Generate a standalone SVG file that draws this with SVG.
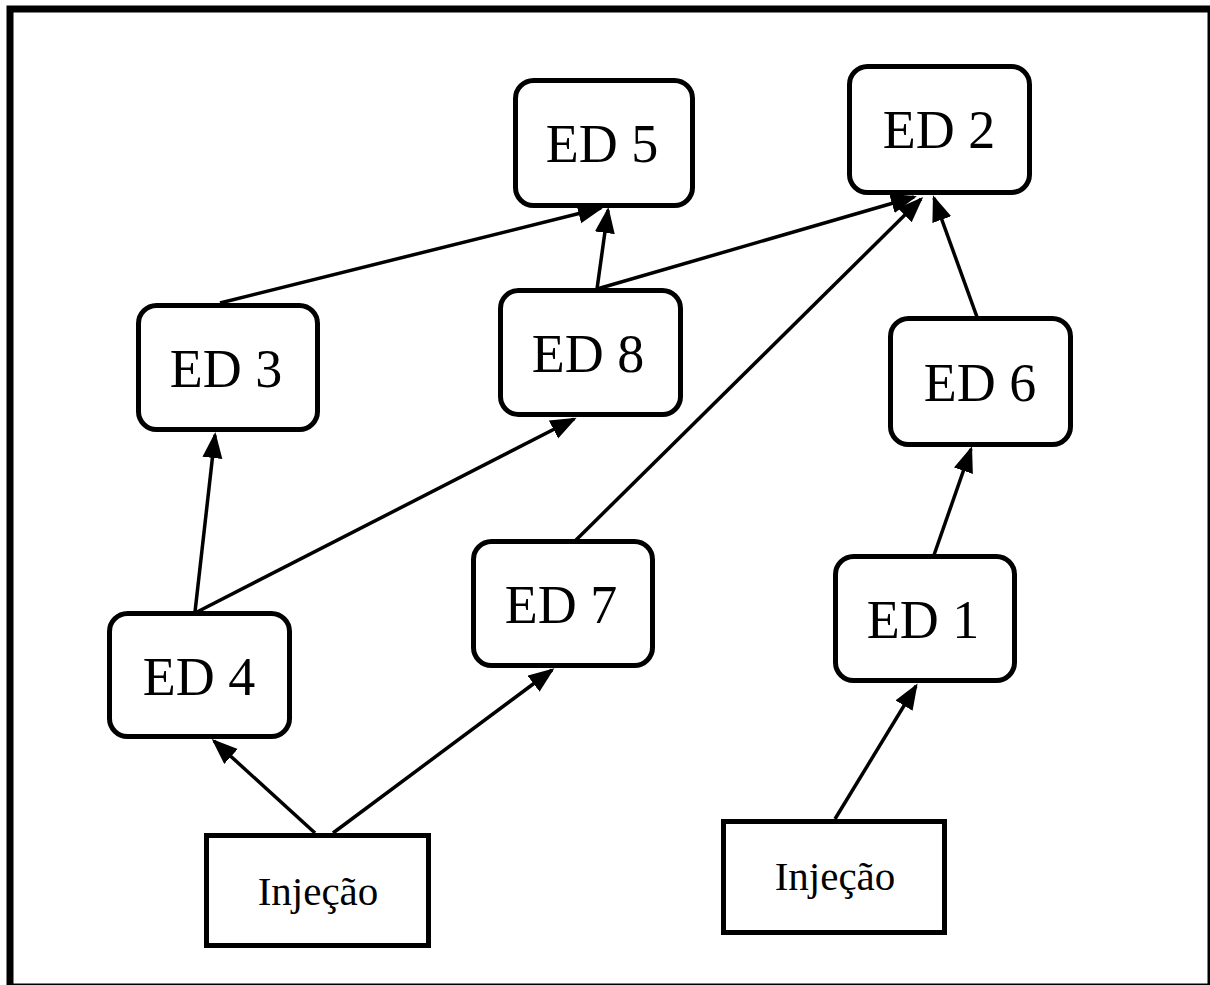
<svg xmlns="http://www.w3.org/2000/svg" width="1210" height="985" viewBox="0 0 1210 985">
  <defs>
    <marker id="arrow" markerUnits="userSpaceOnUse" markerWidth="28" markerHeight="22" refX="23" refY="10" orient="auto">
      <path d="M0,0 L26,10 L0,20 Z" fill="#000"/>
    </marker>
    <style>
      .frame { fill: #fff; stroke: #000; stroke-width: 7; }
      .node { fill: #fff; stroke: #000; stroke-width: 5; }
      .inj { fill: #fff; stroke: #000; stroke-width: 5; }
      .lbl { font-family: "Liberation Serif", "Times New Roman", serif; font-size: 54px; fill: #000; text-anchor: middle; }
      .lbl-s { font-family: "Liberation Serif", "Times New Roman", serif; font-size: 41px; fill: #000; text-anchor: middle; }
      .edge { stroke: #000; stroke-width: 3.5; fill: none; marker-end: url(#arrow); }
    </style>
  </defs>

  <rect width="1210" height="985" fill="#fff"/>
  <rect class="frame" x="10" y="9" width="1201" height="978"/>

  <g id="connectors">
    <line class="edge" x1="220" y1="303" x2="601" y2="208"/>
    <line class="edge" x1="597" y1="289" x2="608" y2="210"/>
    <line class="edge" x1="597" y1="289" x2="914" y2="197"/>
    <line class="edge" x1="574" y1="542" x2="921" y2="199"/>
    <line class="edge" x1="977" y1="317" x2="934" y2="198"/>
    <line class="edge" x1="195" y1="612" x2="215" y2="435"/>
    <line class="edge" x1="197" y1="612" x2="574" y2="419"/>
    <line class="edge" x1="315" y1="833" x2="214" y2="741"/>
    <line class="edge" x1="333" y1="833" x2="552" y2="670"/>
    <line class="edge" x1="835" y1="819" x2="916" y2="686"/>
    <line class="edge" x1="934" y1="555" x2="971" y2="449"/>
  </g>

  <g id="ed5">
    <rect class="node" x="515.5" y="80.5" width="177" height="125" rx="18"/>
    <text class="lbl" x="602" y="162">ED 5</text>
  </g>
  <g id="ed2">
    <rect class="node" x="849.5" y="66.5" width="180" height="126" rx="18"/>
    <text class="lbl" x="939" y="148">ED 2</text>
  </g>
  <g id="ed3">
    <rect class="node" x="138.5" y="305.5" width="179" height="124" rx="18"/>
    <text class="lbl" x="226" y="387">ED 3</text>
  </g>
  <g id="ed8">
    <rect class="node" x="500.5" y="290.5" width="180" height="124" rx="18"/>
    <text class="lbl" x="588" y="372">ED 8</text>
  </g>
  <g id="ed6">
    <rect class="node" x="890.5" y="318.5" width="180" height="126" rx="18"/>
    <text class="lbl" x="980" y="401">ED 6</text>
  </g>
  <g id="ed7">
    <rect class="node" x="473.5" y="541.5" width="179" height="124" rx="18"/>
    <text class="lbl" x="561" y="623">ED 7</text>
  </g>
  <g id="ed1">
    <rect class="node" x="835.5" y="556.5" width="179" height="124" rx="18"/>
    <text class="lbl" x="923" y="638">ED 1</text>
  </g>
  <g id="ed4">
    <rect class="node" x="109.5" y="613.5" width="180" height="123" rx="18"/>
    <text class="lbl" x="199" y="695">ED 4</text>
  </g>
  <g id="injecao-1">
    <rect class="inj" x="206.5" y="835.5" width="222" height="110"/>
    <text class="lbl-s" x="318" y="905">Injeção</text>
  </g>
  <g id="injecao-2">
    <rect class="inj" x="723.5" y="821.5" width="221" height="111"/>
    <text class="lbl-s" x="835" y="890">Injeção</text>
  </g>
</svg>
